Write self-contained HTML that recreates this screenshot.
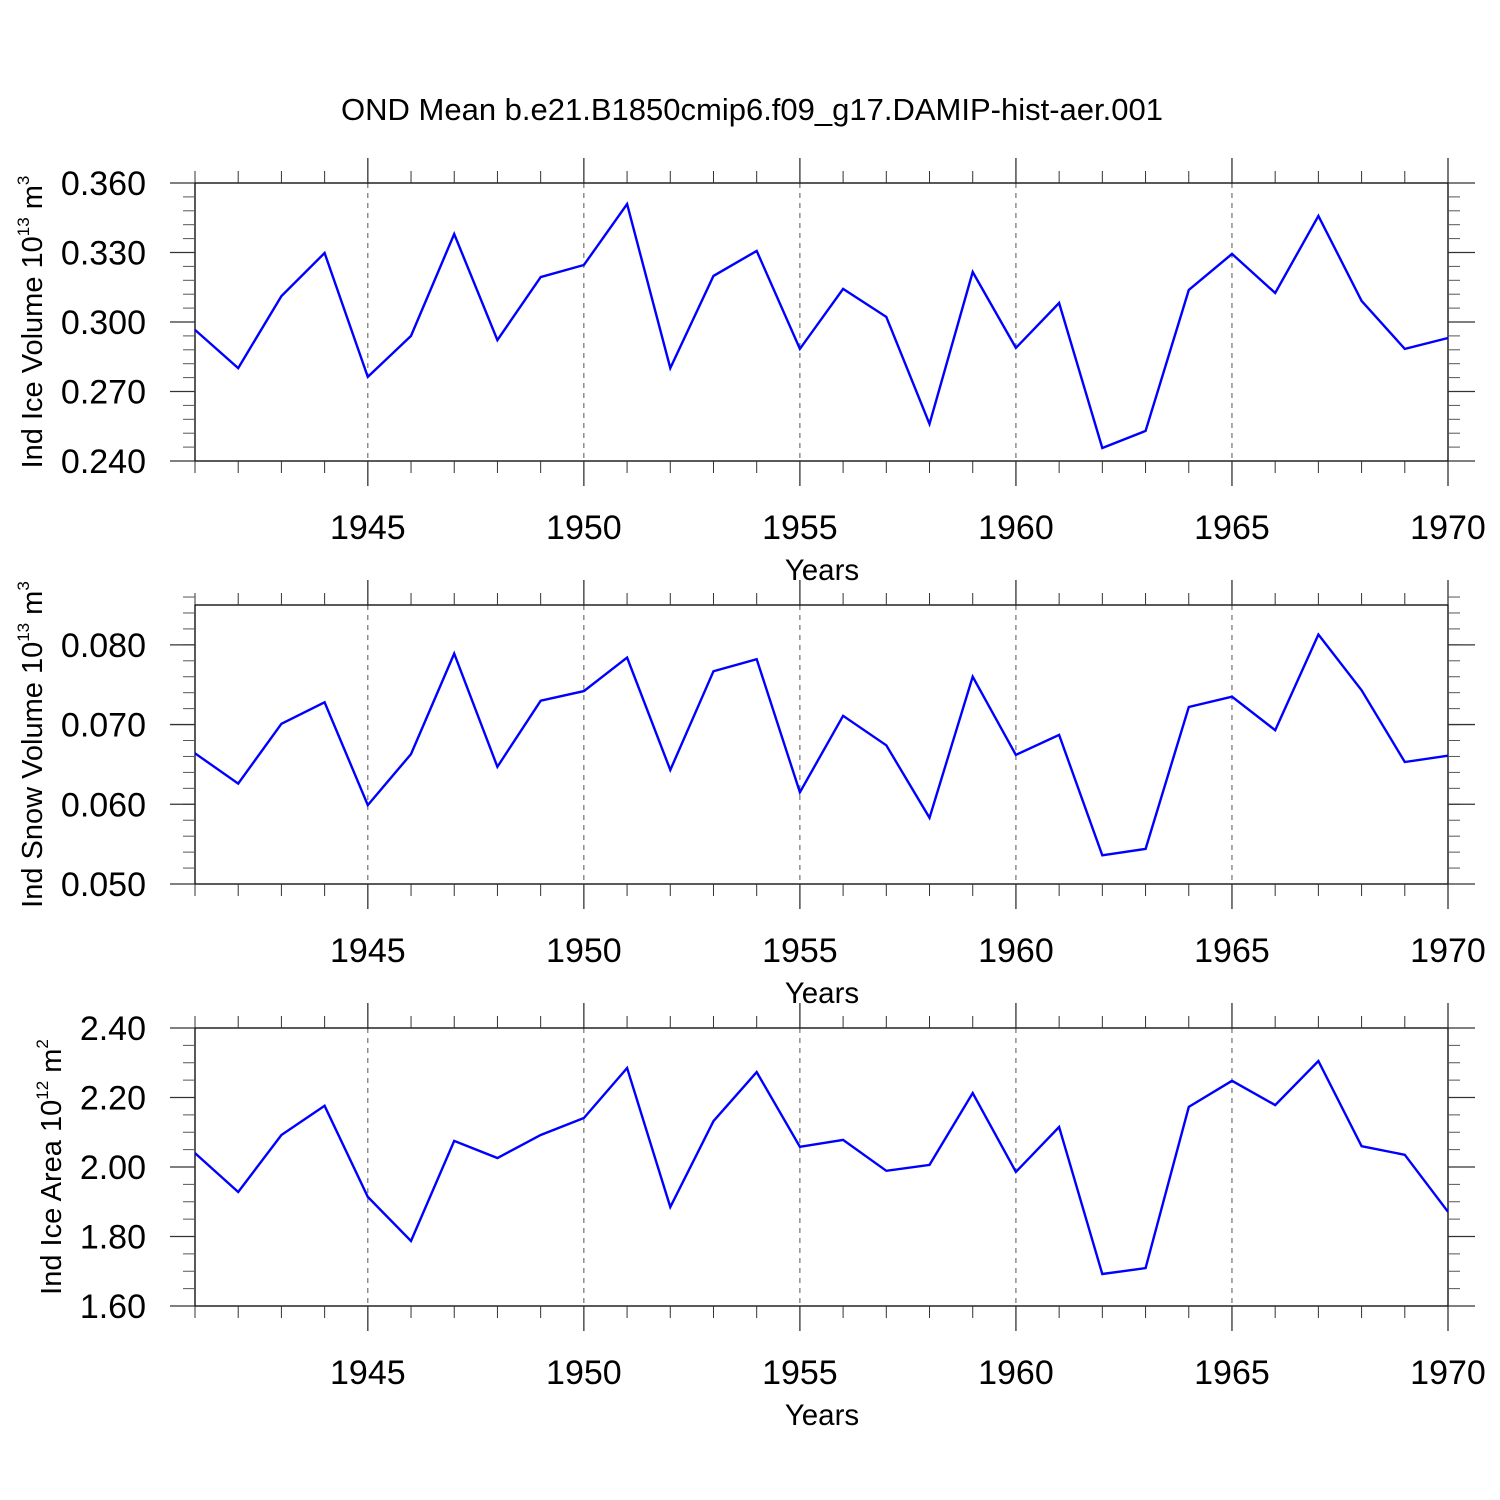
<!DOCTYPE html>
<html><head><meta charset="utf-8"><style>
html,body{margin:0;padding:0;background:#fff;}
svg{display:block;font-family:"Liberation Sans",Arial,sans-serif;}
</style></head><body>
<svg id="chart" width="1500" height="1500" viewBox="0 0 1500 1500" xmlns="http://www.w3.org/2000/svg">
<text x="752" y="120" font-size="31" text-anchor="middle">OND Mean b.e21.B1850cmip6.f09_g17.DAMIP-hist-aer.001</text>
</svg>
<script>
const years = [1941,1942,1943,1944,1945,1946,1947,1948,1949,1950,1951,1952,1953,1954,1955,1956,1957,1958,1959,1960,1961,1962,1963,1964,1965,1966,1967,1968,1969,1970];
const iceVolume = [0.2966,0.2801,0.3112,0.3298,0.2763,0.2940,0.3380,0.2922,0.3194,0.3246,0.3509,0.2801,0.3199,0.3307,0.2884,0.3143,0.3022,0.2560,0.3216,0.2888,0.3082,0.2456,0.2530,0.3138,0.3294,0.3125,0.3458,0.3091,0.2884,0.2931];
const snowVolume = [0.0664,0.0626,0.0701,0.0728,0.0599,0.0663,0.0789,0.0647,0.0730,0.0742,0.0784,0.0643,0.0767,0.0782,0.0615,0.0711,0.0674,0.0583,0.0760,0.0662,0.0687,0.0536,0.0544,0.0722,0.0735,0.0693,0.0813,0.0743,0.0653,0.0661];
const iceArea = [2.040,1.928,2.092,2.176,1.914,1.787,2.075,2.026,2.092,2.141,2.285,1.885,2.132,2.273,2.058,2.078,1.989,2.006,2.213,1.986,2.115,1.692,1.709,2.173,2.248,2.178,2.305,2.060,2.035,1.871];
const xTickLabels = ["1945","1950","1955","1960","1965","1970"];
const iceVolTicks = ["0.240","0.270","0.300","0.330","0.360"];
const snowVolTicks = ["0.050","0.060","0.070","0.080"];
const iceAreaTicks = ["1.60","1.80","2.00","2.20","2.40"];

const NS="http://www.w3.org/2000/svg";
const svg=document.getElementById('chart');
function mk(tag,attrs,parent){const e=document.createElementNS(NS,tag);for(const k in attrs)e.setAttribute(k,attrs[k]);(parent||svg).appendChild(e);return e;}
const X0=195,X1=1448,XMIN=1941,XMAX=1970;
const xs=v=>X0+(v-XMIN)/(XMAX-XMIN)*(X1-X0);

const panels=[
 {name:'ice-volume',top:183,bot:461,ymin:0.24,ymax:0.36,minor:0.006,ticks:iceVolTicks,data:iceVolume,title:['Ind Ice Volume 10','13',' m','3'],tx:42},
 {name:'snow-volume',top:605,bot:884,ymin:0.05,ymax:0.085,minor:0.002,ticks:snowVolTicks,data:snowVolume,title:['Ind Snow Volume 10','13',' m','3'],tx:42},
 {name:'ice-area',top:1028,bot:1306,ymin:1.6,ymax:2.4,minor:0.05,ticks:iceAreaTicks,data:iceArea,title:['Ind Ice Area 10','12',' m','2'],tx:61}
];
panels.forEach(p=>{
 const g=mk('g',{});
 
 
 const H=p.bot-p.top;
 const ys=v=>p.bot-(v-p.ymin)/(p.ymax-p.ymin)*H;
 xTickLabels.forEach(t=>{const x=xs(+t);if(+t<XMAX){const l=mk('line',{x1:x,x2:x,y1:p.top,y2:p.bot,stroke:'#555','stroke-width':1,'stroke-dasharray':'5,5'},g);}});
 const fr=mk('rect',{x:X0,y:p.top,width:X1-X0,height:H,fill:'none',stroke:'#000','stroke-width':1.3},g);
 
 for(let yr=XMIN;yr<=XMAX;yr++){const x=xs(yr);const maj=yr%5===0;const L=maj?25:12;
  mk('line',{x1:x,x2:x,y1:p.top,y2:p.top-L,stroke:'#333','stroke-width':maj?1.3:1},g);
  mk('line',{x1:x,x2:x,y1:p.bot,y2:p.bot+L,stroke:'#333','stroke-width':maj?1.3:1},g);}
 xTickLabels.forEach(t=>{const tx=mk('text',{x:xs(+t),y:p.bot+78,'font-size':34,'text-anchor':'middle'},g);tx.textContent=t;
  });
 const xt=mk('text',{x:822,y:p.bot+119,'font-size':29.5,'text-anchor':'middle'},g);xt.textContent='Years';
 
 const n=Math.round((p.ymax-p.ymin)/p.minor);
 for(let i=0;i<=n;i++){const y=ys(p.ymin+i*p.minor);
  mk('line',{x1:X0,x2:X0-12,y1:y,y2:y,stroke:'#555','stroke-width':1},g);
  mk('line',{x1:X1,x2:X1+12,y1:y,y2:y,stroke:'#555','stroke-width':1},g);}
 p.ticks.forEach(t=>{const y=ys(+t);
  mk('line',{x1:X0,x2:X0-25,y1:y,y2:y,stroke:'#333','stroke-width':1.3},g);
  mk('line',{x1:X1,x2:X1+27,y1:y,y2:y,stroke:'#333','stroke-width':1.3},g);
  const tx=mk('text',{x:146,y:y+12,'font-size':34,'text-anchor':'end'},g);tx.textContent=t;
  });
 const cy=(p.top+p.bot)/2;
 const yt=mk('text',{x:0,y:0,'font-size':29,'text-anchor':'middle',transform:`translate(${p.tx},${cy}) rotate(-90)`},g);
 
 p.title.forEach((s,i)=>{const ts=mk('tspan',{},yt);ts.textContent=s;if(i%2===1){ts.setAttribute('font-size','17');ts.setAttribute('dy','-13');}else if(i>0){ts.setAttribute('dy','13');}});
 const pts=years.map((yr,i)=>xs(yr).toFixed(1)+','+ys(p.data[i]).toFixed(1)).join(' ');
 const pl=mk('polyline',{points:pts,fill:'none',stroke:'#0000ff','stroke-width':2.4,'stroke-linejoin':'miter'},g);
 
});
</script>
</body></html>
